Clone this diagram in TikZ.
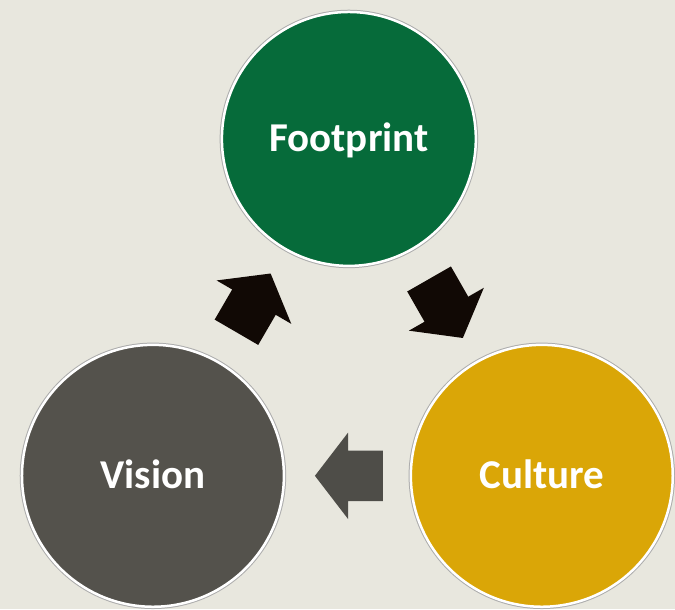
\documentclass[tikz,border=0pt]{standalone}
\usepackage{fontspec}
\setmainfont{Carlito}
\usetikzlibrary{shapes.arrows}
\definecolor{paper}{HTML}{E8E7DE}
\definecolor{fpgreen}{HTML}{066B3A}
\definecolor{cugold}{HTML}{DAA607}
\definecolor{visgray}{HTML}{54524C}
\definecolor{arrowblack}{HTML}{110905}
\definecolor{arrowgray}{HTML}{4E4D48}
\tikzset{
 disc/.style={circle,minimum size=258pt,inner sep=0pt,fill=#1,draw=white,line width=2.5pt,
  preaction={draw=gray!65,line width=4.5pt},text=white,font=\fontsize{41}{41}\selectfont\bfseries,
  text height=26pt,text depth=0pt},
 flow/.style={single arrow,fill=#1,draw=none,inner xsep=0pt,inner ysep=25pt,minimum height=68pt,
  single arrow head extend=18pt,single arrow tip angle=105,sloped,allow upside down}
}
\begin{document}
\begin{tikzpicture}[x=1pt,y=1pt]
 \fill[paper](0,0) rectangle (675,609);
 \node[disc=fpgreen,minimum size=254pt] (footprint) at (349,470) {Footprint};
 \node[disc=cugold,minimum size=262pt] (culture) at (542,133) {Culture};
 \node[disc=visgray,minimum size=262pt] (vision) at (153,133) {Vision};
 \path (vision) -- node[flow=arrowblack,pos=0.45] (up) {} (footprint);
 \path (footprint) -- node[flow=arrowblack,pos=0.45] (down) {} (culture);
 \path (culture) -- node[flow=arrowgray,pos=0.41] (back) {} (vision);
\end{tikzpicture}
\end{document}
